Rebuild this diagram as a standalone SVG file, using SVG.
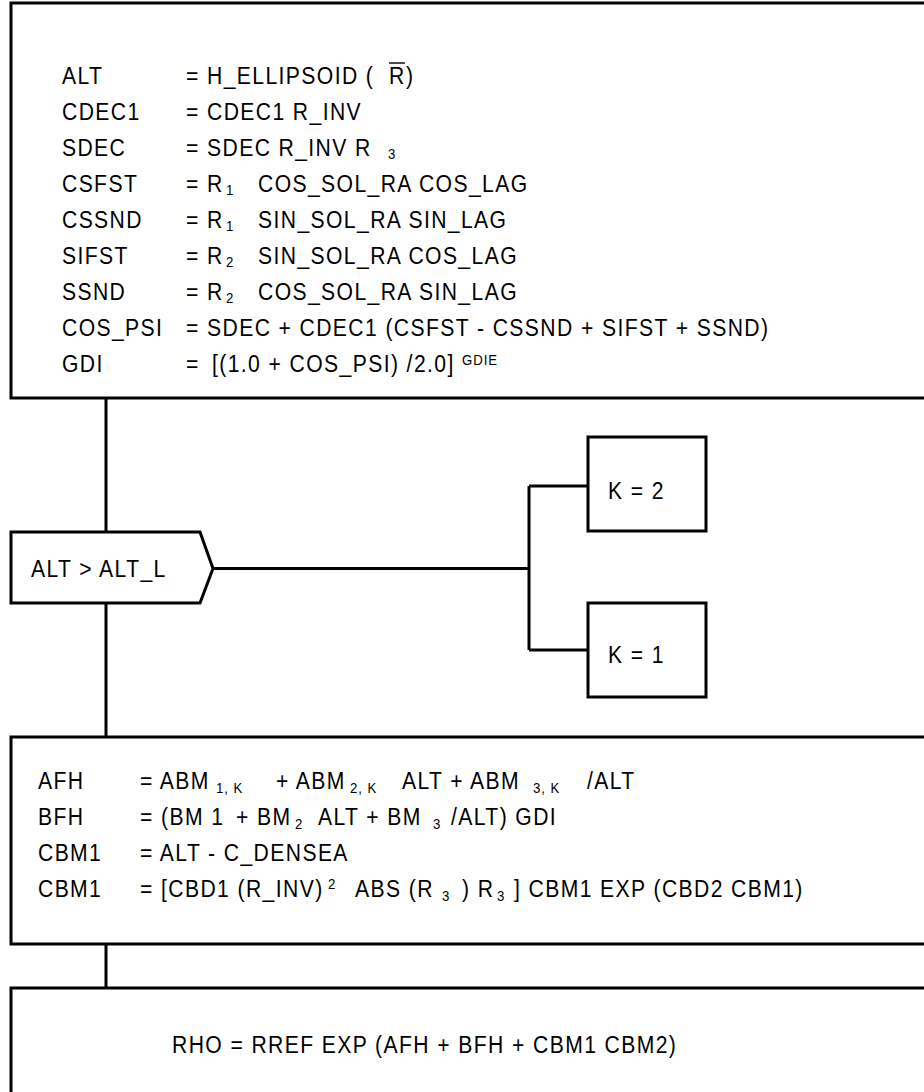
<svg xmlns="http://www.w3.org/2000/svg" width="924" height="1092" viewBox="0 0 924 1092">
<style>
.box{fill:#fff;stroke:#000;stroke-width:3}
.con{fill:none;stroke:#000;stroke-width:3}
text{font-family:"Liberation Sans",Arial,sans-serif;font-size:24px;letter-spacing:1.6px;fill:#000}
.s{font-size:15px;letter-spacing:1.1px}
</style>
<rect width="924" height="1092" fill="#fff"/>
<g id="connectors">
<path class="con" d="M106 398V532M106 603V737M106 944V988M213 568.5H529M529 486V650M529 486H588M529 650H588"/>
</g>
<g id="node-init">
<rect class="box" x="11" y="3" width="930" height="395"/>
<line x1="389" y1="63" x2="405" y2="63" stroke="#000" stroke-width="1.4"/>
<g transform="scale(0.88 1)">
<text x="70.45" y="84">ALT</text>
<text x="70.45" y="120">CDEC1</text>
<text x="70.45" y="156">SDEC</text>
<text x="70.45" y="192">CSFST</text>
<text x="70.45" y="228">CSSND</text>
<text x="70.45" y="264">SIFST</text>
<text x="70.45" y="300">SSND</text>
<text x="70.45" y="336">COS_PSI</text>
<text x="70.45" y="372">GDI</text>
<text y="84"><tspan x="211.36">= H_ELLIPSOID (</tspan><tspan x="442.05">R</tspan><tspan x="461.36">)</tspan></text>
<text x="211.36" y="120">= CDEC1 R_INV</text>
<text y="156"><tspan x="211.36">= SDEC R_INV R</tspan><tspan class="s" x="440.91" y="159">3</tspan></text>
<text y="192"><tspan x="211.36">= R</tspan><tspan class="s" x="256.82" y="195">1</tspan><tspan x="293.18" y="192">COS_SOL_RA COS_LAG</tspan></text>
<text y="228"><tspan x="211.36">= R</tspan><tspan class="s" x="256.82" y="231">1</tspan><tspan x="293.18" y="228">SIN_SOL_RA SIN_LAG</tspan></text>
<text y="264"><tspan x="211.36">= R</tspan><tspan class="s" x="256.82" y="267">2</tspan><tspan x="293.18" y="264">SIN_SOL_RA COS_LAG</tspan></text>
<text y="300"><tspan x="211.36">= R</tspan><tspan class="s" x="256.82" y="303">2</tspan><tspan x="293.18" y="300">COS_SOL_RA SIN_LAG</tspan></text>
<text x="211.36" y="336">= SDEC + CDEC1 (CSFST - CSSND + SIFST + SSND)</text>
<text y="372"><tspan x="211.36">=</tspan><tspan x="240.91">[(1.0 + COS_PSI) /2.0]</tspan><tspan class="s" x="525" y="365">GDIE</tspan></text>
</g>
</g>
<g id="node-decision">
<polygon class="box" points="11,532 200,532 213,568.5 200,603 11,603"/>
<text transform="scale(0.88 1)" x="35.23" y="577">ALT &gt; ALT_L</text>
</g>
<g id="node-k2">
<rect class="box" x="588" y="437" width="118" height="94"/>
<text transform="scale(0.88 1)" x="690.91" y="499">K = 2</text>
</g>
<g id="node-k1">
<rect class="box" x="588" y="603" width="118" height="94"/>
<text transform="scale(0.88 1)" x="690.91" y="663">K = 1</text>
</g>
<g id="node-coeff">
<rect class="box" x="11" y="737" width="930" height="207"/>
<g transform="scale(0.88 1)">
<text x="43.18" y="789">AFH</text>
<text x="43.18" y="825">BFH</text>
<text x="43.18" y="861">CBM1</text>
<text x="43.18" y="897">CBM1</text>
<text y="789"><tspan x="159.09">= ABM</tspan><tspan class="s" x="245.45" y="793">1, K</tspan><tspan x="313.64" y="789">+ ABM</tspan><tspan class="s" x="397.73" y="793">2, K</tspan><tspan x="456.82" y="789">ALT + ABM</tspan><tspan class="s" x="605.68" y="793">3, K</tspan><tspan x="667.05" y="789">/ALT</tspan></text>
<text y="825"><tspan x="159.09">= (BM 1</tspan><tspan x="268.18">+ BM</tspan><tspan class="s" x="335.23" y="829">2</tspan><tspan x="361.36" y="825">ALT + BM</tspan><tspan class="s" x="492.05" y="829">3</tspan><tspan x="512.5" y="825">/ALT) GDI</tspan></text>
<text x="159.09" y="861">= ALT - C_DENSEA</text>
<text y="897"><tspan x="159.09">= [CBD1 (R_INV)</tspan><tspan class="s" x="372.73" y="889">2</tspan><tspan x="403.41" y="897">ABS (R</tspan><tspan class="s" x="502.27" y="901">3</tspan><tspan x="525" y="897">) R</tspan><tspan class="s" x="564.77" y="901">3</tspan><tspan x="584.09" y="897">] CBM1 EXP (CBD2 CBM1)</tspan></text>
</g>
</g>
<g id="node-rho">
<rect class="box" x="11" y="988" width="930" height="120"/>
<text transform="scale(0.88 1)" x="195.45" y="1053">RHO = RREF EXP (AFH + BFH + CBM1 CBM2)</text>
</g>
</svg>
